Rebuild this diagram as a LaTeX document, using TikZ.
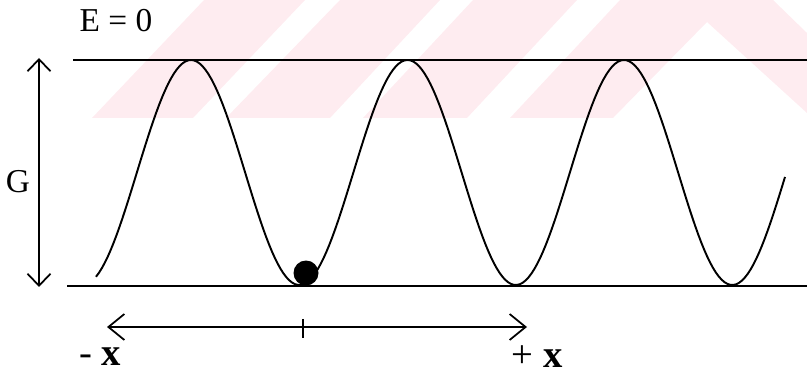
\documentclass[tikz,border=0pt]{standalone}
\usepackage{fontspec}
\setmainfont{Liberation Serif}
\usepackage{tikz}
\usetikzlibrary{arrows.meta, positioning, calc}
\usepackage{xcolor}
\definecolor{wmpink}{RGB}{254,236,240}

\begin{document}
\begin{tikzpicture}[x=0.02cm, y=-0.02cm,
    lbl/.style={inner sep=0pt, font=\fontsize{19}{21}\selectfont},
    xlbl/.style={inner sep=0pt, font=\fontsize{22}{24}\selectfont},
    barbv/.style={line width=1pt, {Straight Barb[length=2.4mm, width=4.6mm]}-{Straight Barb[length=2.4mm, width=4.6mm]}},
    barbh/.style={line width=1pt, {Straight Barb[length=3.2mm, width=5.2mm]}-{Straight Barb[length=3.2mm, width=5.2mm]}}]
    \useasboundingbox (0,0) rectangle (807,374);

    % Watermark stripes (background)
    \fill[wmpink] (92,118) -- (193,118) -- (305,0) -- (204,0) -- cycle;
    \fill[wmpink] (226,118) -- (330,118) -- (440,0) -- (340,0) -- cycle;
    \fill[wmpink] (363,118) -- (467,118) -- (577,0) -- (473,0) -- cycle;
    \fill[wmpink] (510,118) -- (613,118) -- (707,22) -- (807,113) -- (807,33) -- (773,0) -- (620,0) -- cycle;

    % Levels
    \draw[line width=1.1pt] (73,60) -- (807,60);
    \draw[line width=1.1pt] (67,286) -- (807,286);
    \node[lbl] (ezero) at (116,21) {E = 0};

    % Barrier height G
    \coordinate (gtop) at (39,58);
    \coordinate (gbot) at (39,287);
    \draw[barbv] (gbot) -- (gtop);
    \node[lbl] (glab) at (18,182) {G};

    % Periodic potential
    \draw[line width=1.1pt, line join=round]
        plot[domain=96:785, samples=240] (\x, {172.5-112.5*cos(1.66282*(\x-191))});

    % Particle in a well
    \fill[black] (306,273) circle (0.25cm);

    % Displacement
    \coordinate (xleft) at (107,327);
    \coordinate (xright) at (527,327);
    \coordinate (ticktop) at (303,319);
    \coordinate (tickbot) at (303,338);
    \draw[barbh] (xleft) -- (xright);
    \draw[line width=1pt] (ticktop) -- (tickbot);
    \node[xlbl] (xminus) at (100,357) {- \textbf{x}};
    \node[xlbl] (xplus) at (537,357) {+ \textbf{x}};
\end{tikzpicture}
\end{document}
